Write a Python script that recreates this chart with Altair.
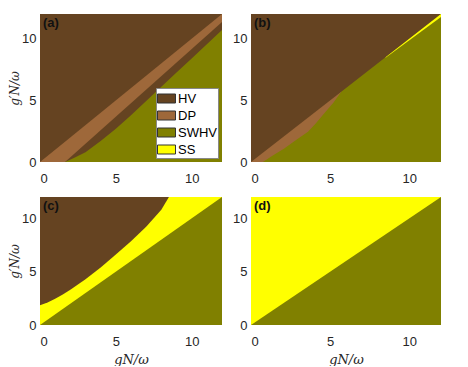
import altair as alt
import pandas as pd

phases = ["HV", "DP", "SWHV", "SS"]
colors = ["#654321", "#9E683A", "#808000", "#FFFF00"]
ticks = [0, 5, 10]
panel_labels = ["(a)", "(b)", "(c)", "(d)"]

# ---- panel (a) ----
a_hv_x = [0, 12]
a_hv_lo = [0, 0]
a_hv_hi = [12, 12]
a_dp_x = [0, 1.65, 12]
a_dp_lo = [0, 0, 11.35]
a_dp_hi = [0, 1.65, 12]
a_sw_x = [1.65, 2.2, 2.6, 3.0, 4.0, 5.0, 6.0, 7.0, 8.0, 9.0, 10.0, 11.0, 12.0]
a_sw_lo = [0] * 13
a_sw_hi = [0, 0.3, 0.55, 0.8, 1.7, 2.7, 3.8, 4.95, 6.1, 7.25, 8.4, 9.55, 10.7]

# ---- panel (b) ----
b_hv_x = [0, 12]
b_hv_lo = [0, 0]
b_hv_hi = [12, 12]
b_dp_x = [0, 5.7]
b_dp_lo = [0, 0]
b_dp_hi = [0, 5.7]
b_sw_x = [0.75, 1.4, 2.1, 2.8, 3.6, 4.1, 4.63, 5.2, 5.7, 12]
b_sw_lo = [0] * 10
b_sw_hi = [0, 0.55, 1.1, 1.75, 2.46, 3.15, 3.95, 4.8, 5.7, 12]
b_ss_x = [8.5, 12]
b_ss_lo = [8.45, 11.75]
b_ss_hi = [8.5, 12]

# ---- panel (c) ----
c_ss_x = [0, 12]
c_ss_lo = [0, 0]
c_ss_hi = [12, 12]
c_hv_x = [0, 0.5, 1.0, 1.5, 2.0, 3.0, 4.0, 5.0, 6.0, 7.0, 8.0, 8.5]
c_hv_lo = [1.85, 2.1, 2.45, 2.85, 3.3, 4.3, 5.4, 6.6, 7.85, 9.2, 10.8, 12]
c_hv_hi = [12] * 12
c_sw_x = [0, 12]
c_sw_lo = [0, 0]
c_sw_hi = [0, 12]

# ---- panel (d) ----
d_ss_x = [0, 12]
d_ss_lo = [0, 0]
d_ss_hi = [12, 12]
d_sw_x = [0, 12]
d_sw_lo = [0, 0]
d_sw_hi = [0, 12]

panels = [
    [("HV", a_hv_x, a_hv_lo, a_hv_hi), ("DP", a_dp_x, a_dp_lo, a_dp_hi), ("SWHV", a_sw_x, a_sw_lo, a_sw_hi)],
    [("HV", b_hv_x, b_hv_lo, b_hv_hi), ("DP", b_dp_x, b_dp_lo, b_dp_hi), ("SWHV", b_sw_x, b_sw_lo, b_sw_hi),
     ("SS", b_ss_x, b_ss_lo, b_ss_hi)],
    [("SS", c_ss_x, c_ss_lo, c_ss_hi), ("HV", c_hv_x, c_hv_lo, c_hv_hi), ("SWHV", c_sw_x, c_sw_lo, c_sw_hi)],
    [("SS", d_ss_x, d_ss_lo, d_ss_hi), ("SWHV", d_sw_x, d_sw_lo, d_sw_hi)],
]

LABEL_FONT = "Liberation Sans"
TITLE_FONT = "DejaVu Serif"
TXT = "#262626"

legend = alt.Legend(
    orient="none", legendX=116, legendY=74, title=None,
    fillColor="white", strokeColor="#888888", padding=1,
    labelFont=LABEL_FONT, labelFontSize=13, labelColor="black", labelOffset=2,
    symbolType="M-1,-0.5H1V0.5H-1Z", symbolSize=324,
    symbolStrokeColor="#333333", symbolStrokeWidth=1, symbolOpacity=1,
    rowPadding=-0.5,
)


def make_panel(idx, regions, w, h, xtitle, ytitle):
    scale = alt.Scale(domain=[0, 12], nice=False, zero=False)
    xaxis = alt.Axis(values=ticks, grid=False, domain=False, ticks=False,
                     labelFont=LABEL_FONT, labelFontSize=13, labelColor=TXT, labelPadding=10,
                     title=xtitle, titleFont=TITLE_FONT, titleFontStyle="italic",
                     titleFontWeight="normal", titleFontSize=13, titleColor=TXT, titlePadding=5)
    yaxis = alt.Axis(values=ticks, grid=False, domain=False, ticks=False,
                     labelFont=LABEL_FONT, labelFontSize=13, labelColor=TXT, labelPadding=4,
                     title=ytitle, titleFont=TITLE_FONT, titleFontStyle="italic",
                     titleFontWeight="normal", titleFontSize=12, titleColor=TXT, titlePadding=0)
    layers = []
    for phase, xs, lo, hi in regions:
        df = pd.DataFrame({"x": xs, "lo": lo, "hi": hi, "phase": [phase] * len(xs)})
        layers.append(
            alt.Chart(df).mark_area(interpolate="linear", opacity=1).encode(
                x=alt.X("x:Q", scale=scale, axis=xaxis),
                y=alt.Y("lo:Q", scale=scale, axis=yaxis),
                y2="hi:Q",
                color=alt.Color("phase:N", scale=alt.Scale(domain=phases, range=colors), legend=legend),
            )
        )
    lab = alt.Chart(pd.DataFrame({"t": [panel_labels[idx]]})).mark_text(
        align="left", baseline="middle", font=LABEL_FONT, fontSize=13, fontWeight="bold", color="#111111"
    ).encode(x=alt.value(3), y=alt.value(9), text="t:N")
    layers.append(lab)
    return alt.layer(*layers).properties(width=w, height=h)


pa = make_panel(0, panels[0], 182, 148, None, "g′N/ω")
pb = make_panel(1, panels[1], 190, 148, None, None)
pc = make_panel(2, panels[2], 182, 128, "gN/ω", "g′N/ω")
pd_ = make_panel(3, panels[3], 190, 128, "gN/ω", None)

top = alt.hconcat(pa, pb, spacing=10)
bottom = alt.hconcat(pc, pd_, spacing=10)
chart = alt.vconcat(top, bottom, spacing=12).properties(
    padding={"left": 0, "top": 6, "right": 0, "bottom": 0}
).configure_view(stroke=None)

chart.save("out.html", embed_options={"renderer": "svg", "actions": False})
